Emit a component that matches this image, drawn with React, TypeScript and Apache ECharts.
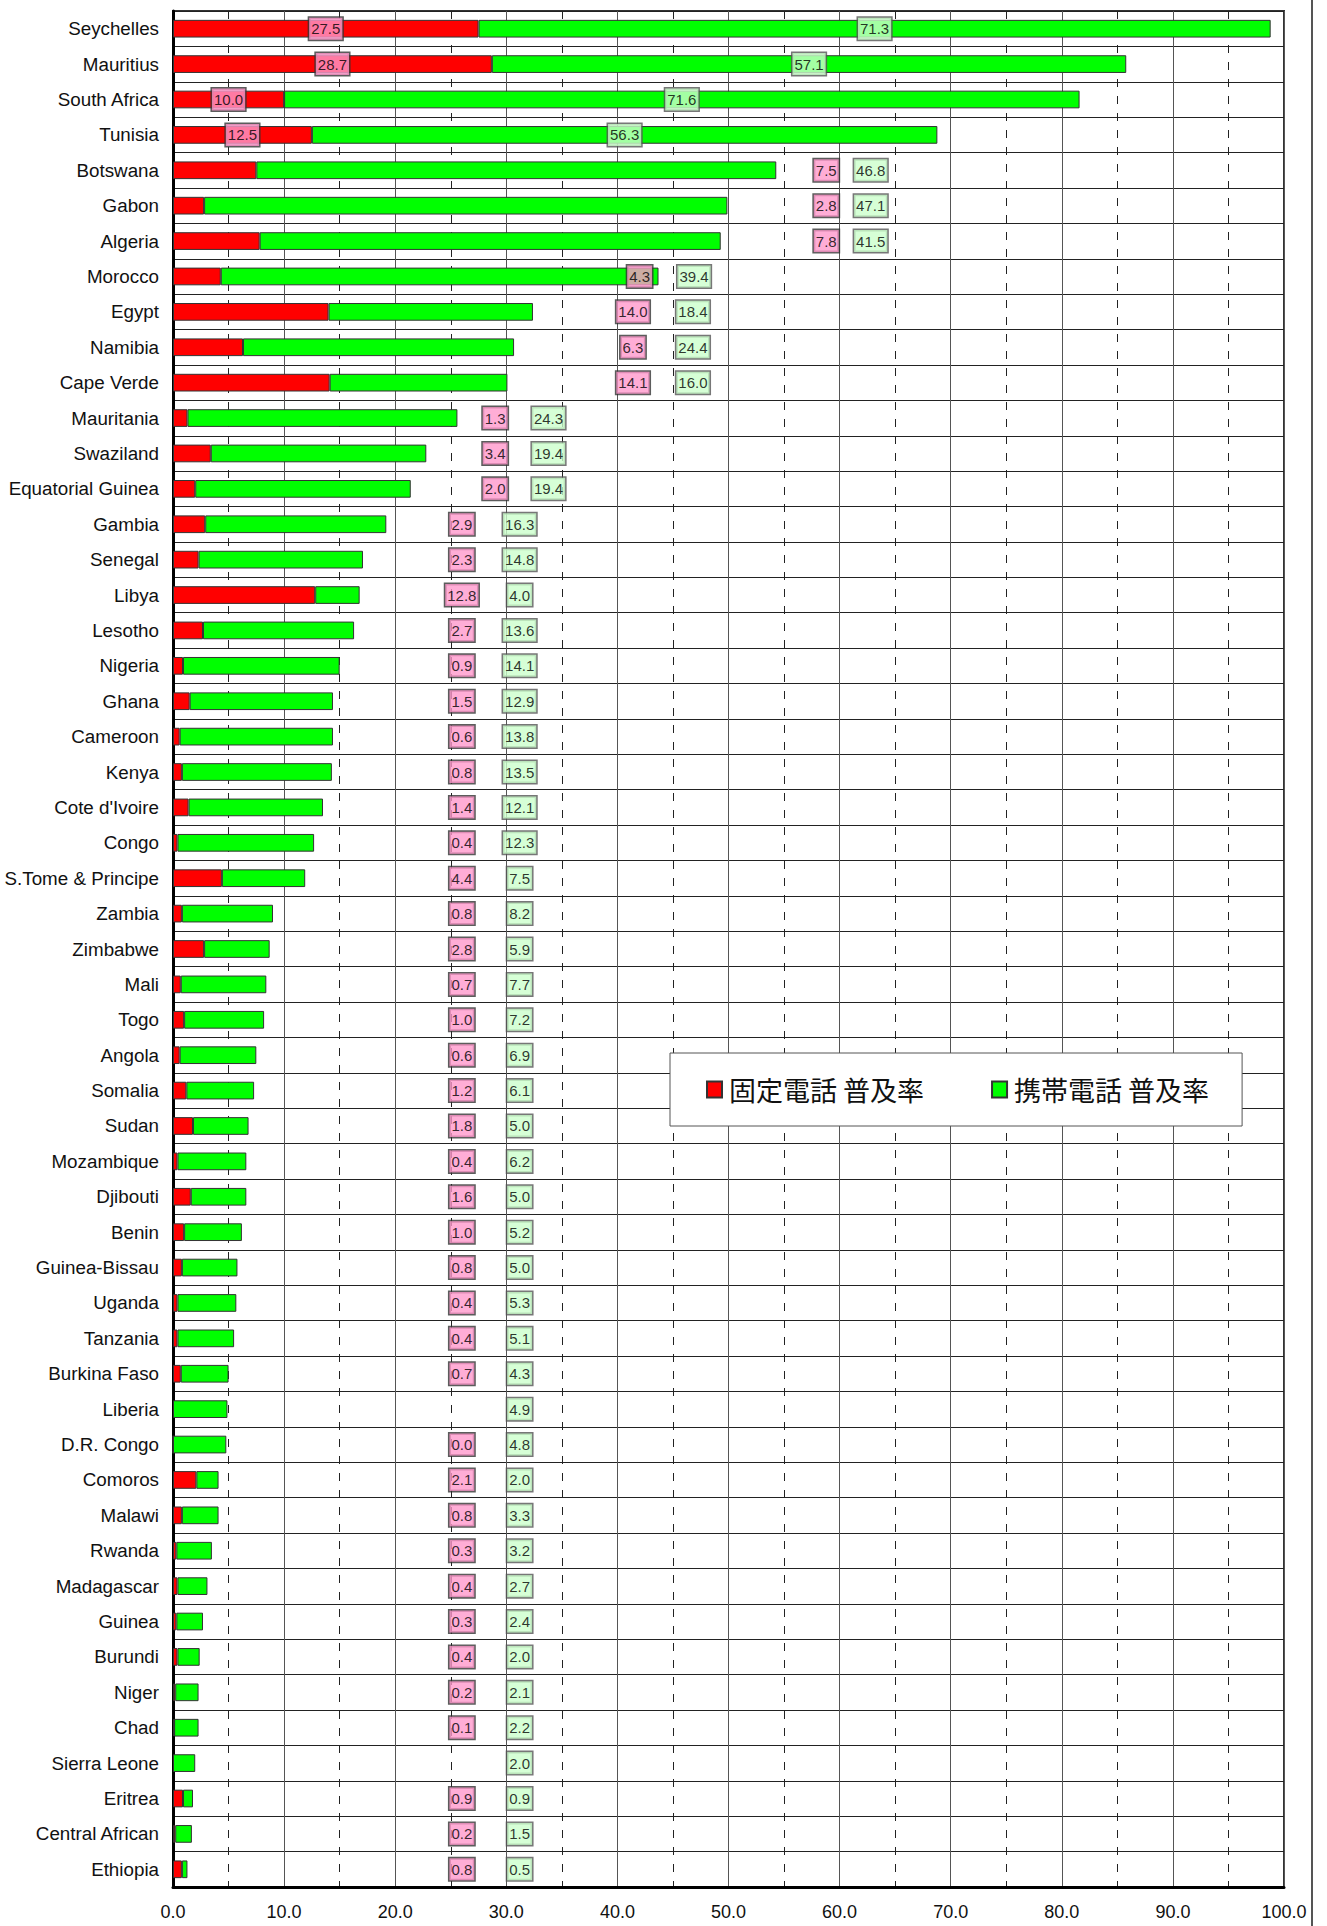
import React, { useEffect, useRef } from "react";
import * as echarts from "echarts";

// ---- data ----
const categories = [
  "Seychelles", "Mauritius", "South Africa", "Tunisia", "Botswana", "Gabon", "Algeria",
  "Morocco", "Egypt", "Namibia", "Cape Verde", "Mauritania", "Swaziland", "Equatorial Guinea",
  "Gambia", "Senegal", "Libya", "Lesotho", "Nigeria", "Ghana", "Cameroon", "Kenya",
  "Cote d'Ivoire", "Congo", "S.Tome & Principe", "Zambia", "Zimbabwe", "Mali", "Togo",
  "Angola", "Somalia", "Sudan", "Mozambique", "Djibouti", "Benin", "Guinea-Bissau", "Uganda",
  "Tanzania", "Burkina Faso", "Liberia", "D.R. Congo", "Comoros", "Malawi", "Rwanda",
  "Madagascar", "Guinea", "Burundi", "Niger", "Chad", "Sierra Leone", "Eritrea",
  "Central African", "Ethiopia",
];

const fixedLine: (number | null)[] = [
  27.5, 28.7, 10.0, 12.5, 7.5, 2.8, 7.8, 4.3, 14.0, 6.3, 14.1, 1.3, 3.4, 2.0,
  2.9, 2.3, 12.8, 2.7, 0.9, 1.5, 0.6, 0.8, 1.4, 0.4, 4.4, 0.8, 2.8, 0.7, 1.0,
  0.6, 1.2, 1.8, 0.4, 1.6, 1.0, 0.8, 0.4, 0.4, 0.7, null, 0.0, 2.1, 0.8, 0.3,
  0.4, 0.3, 0.4, 0.2, 0.1, null, 0.9, 0.2, 0.8,
];

const mobile: number[] = [
  71.3, 57.1, 71.6, 56.3, 46.8, 47.1, 41.5, 39.4, 18.4, 24.4, 16.0, 24.3, 19.4, 19.4,
  16.3, 14.8, 4.0, 13.6, 14.1, 12.9, 13.8, 13.5, 12.1, 12.3, 7.5, 8.2, 5.9, 7.7, 7.2,
  6.9, 6.1, 5.0, 6.2, 5.0, 5.2, 5.0, 5.3, 5.1, 4.3, 4.9, 4.8, 2.0, 3.3, 3.2,
  2.7, 2.4, 2.0, 2.1, 2.2, 2.0, 0.9, 1.5, 0.5,
];

const xTicks = [0, 10, 20, 30, 40, 50, 60, 70, 80, 90, 100];

const seriesNames = ["固定電話 普及率", "携帯電話 普及率"];

// ---- layout of the value boxes (axis units), by row group ----
const labelSlots: Record<string, [number, number]> = {
  A: [58.8, 62.8],
  B: [42.0, 46.9],
  C: [41.4, 46.8],
  D: [29.0, 33.8],
  E: [26.0, 31.2],
};
function slotFor(i: number): string {
  if (i < 4) return "in";
  if (i < 7) return "A";
  if (i < 8) return "B";
  if (i < 11) return "C";
  if (i < 14) return "D";
  return "E";
}

const SANS = '"Liberation Sans", Arial, sans-serif';
const CJK = '"Noto Sans CJK JP", "Noto Sans CJK SC", sans-serif';

function boxLabel(bg: string, border: string) {
  return {
    show: true,
    position: "inside",
    formatter: (p: any) => Number(p.value[2]).toFixed(1),
    backgroundColor: bg,
    borderColor: border,
    borderWidth: 1.5,
    padding: [4, 2, 3, 2],
    fontSize: 15,
    lineHeight: 15,
    fontFamily: SANS,
    color: "#000",
  };
}

export default function App() {
  const ref = useRef<HTMLDivElement>(null);

  useEffect(() => {
    if (!ref.current) return;
    const chart = echarts.init(ref.current, null, { renderer: "svg" });

    const fixedLabels: any[] = [];
    const mobileLabels: any[] = [];
    categories.forEach((_, i) => {
      const f = fixedLine[i];
      const m = mobile[i];
      const slot = slotFor(i);
      let fx: number, mx: number;
      if (slot === "in") {
        fx = (f ?? 0) / 2;
        mx = (f ?? 0) + m / 2;
      } else {
        fx = labelSlots[slot][0];
        mx = labelSlots[slot][1];
      }
      if (f !== null) fixedLabels.push([fx, i, f]);
      mobileLabels.push([mx, i, m]);
    });

    const option: any = {
      animation: false,
      backgroundColor: "#ffffff",
      grid: {
        left: 173,
        right: 43,
        top: 11,
        bottom: 39,
        show: true,
        borderColor: "#333",
        borderWidth: 2,
        backgroundColor: "transparent",
      },
      legend: {
        data: seriesNames,
        left: 670,
        top: 1053,
        orient: "horizontal",
        backgroundColor: "#fff",
        borderColor: "#555",
        borderWidth: 1,
        padding: [23, 33, 23, 36],
        itemGap: 67,
        itemWidth: 15,
        itemHeight: 16,
        icon: "rect",
        textStyle: { fontSize: 27, fontFamily: CJK, color: "#111", padding: [0, 0, 0, 2] },
        selectedMode: false,
      },
      xAxis: {
        type: "value",
        min: 0,
        max: 100,
        interval: 10,
        axisLine: { show: true, lineStyle: { color: "#000", width: 3 } },
        axisTick: { show: false },
        axisLabel: {
          formatter: (v: number) => (xTicks.includes(v) ? v.toFixed(1) : ""),
          fontSize: 18,
          fontFamily: SANS,
          color: "#111",
          margin: 16,
        },
        splitLine: { show: true, lineStyle: { color: "#555", width: 1 } },
        minorTick: { show: false, splitNumber: 2 },
        minorSplitLine: { show: true, lineStyle: { color: "#222", width: 1, type: [8, 9] } },
      },
      yAxis: {
        type: "category",
        data: categories,
        inverse: true,
        axisLine: { show: true, lineStyle: { color: "#000", width: 3 } },
        axisTick: { show: false, interval: 0 },
        axisLabel: {
          interval: 0,
          fontSize: 18.8,
          fontFamily: SANS,
          color: "#111",
          margin: 14,
        },
        splitLine: { show: true, interval: 0, lineStyle: { color: "#222", width: 1 } },
      },
      series: [
        {
          name: seriesNames[0],
          type: "bar",
          stack: "total",
          barWidth: "50%",
          data: fixedLine,
          itemStyle: { color: "#ff0000", borderColor: "#333", borderWidth: 1 },
          z: 3,
        },
        {
          name: seriesNames[1],
          type: "bar",
          stack: "total",
          barWidth: "50%",
          data: mobile,
          itemStyle: { color: "#00ff00", borderColor: "#333", borderWidth: 1 },
          z: 3,
        },
        {
          type: "scatter",
          data: fixedLabels,
          symbolSize: 1,
          itemStyle: { color: "rgba(0,0,0,0)" },
          label: boxLabel("#ff99cc", "#333"),
          silent: true,
          z: 10,
        },
        {
          type: "scatter",
          data: mobileLabels,
          symbolSize: 1,
          itemStyle: { color: "rgba(0,0,0,0)" },
          label: boxLabel("#ccffcc", "#555"),
          silent: true,
          z: 10,
        },
      ],
      graphic: [
        {
          type: "line",
          shape: { x1: 1312, y1: 0, x2: 1312, y2: 1926 },
          style: { stroke: "#555", lineWidth: 2 },
          silent: true,
        },
      ],
    };

    chart.setOption(option);
    return () => chart.dispose();
  }, []);

  return (
    <div
      ref={ref}
      style={{ position: "absolute", left: 0, top: 0, width: 1327, height: 1926, background: "#fff" }}
    />
  );
}
